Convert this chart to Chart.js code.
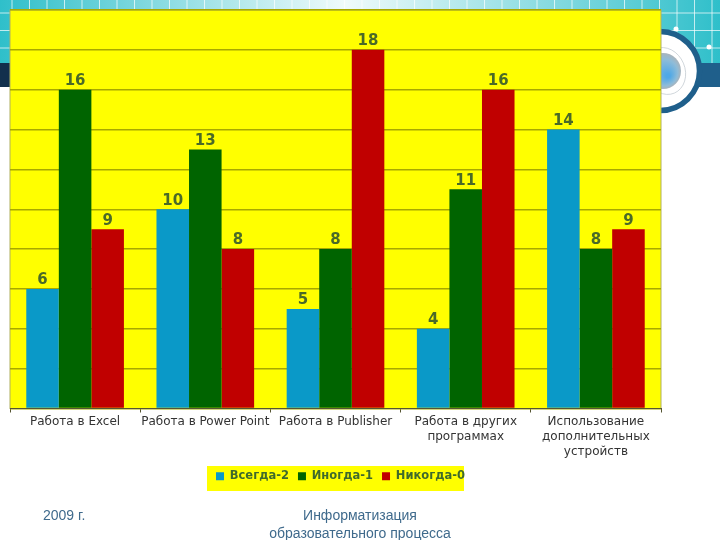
<!DOCTYPE html>
<html>
<head>
<meta charset="utf-8">
<title>Chart</title>
<script src="https://cdn.jsdelivr.net/npm/chart.js@4/dist/chart.umd.min.js"></script>
<style>
    html, body { margin: 0; padding: 0; background: #fff; }
    #wrap { position: relative; width: 720px; height: 540px; overflow: hidden; }
    canvas { display: block; }
    .foot { position: absolute; font-family: "Liberation Sans", Arial, sans-serif; font-size: 14px; line-height: 18px; color: #3f6a8c; }
</style>
</head>
<body>
<div id="wrap">
    <canvas id="chart" width="720" height="540"></canvas>
    <div class="foot" style="left:43px;top:506px;">2009 г.</div>
    <div class="foot" style="left:230px;top:506px;width:260px;text-align:center;">Информатизация<br>образовательного процесса</div>
</div>
<script>
const categories = [
    'Работа в Excel',
    'Работа в Power Point',
    'Работа в Publisher',
    ['Работа в других', 'программах'],
    ['Использование', 'дополнительных', 'устройств']
];
const always = [6, 10, 5, 4, 14];
const sometimes = [16, 13, 8, 11, 8];
const never = [9, 8, 18, 16, 9];
const seriesNames = ['Всегда-2', 'Иногда-1', 'Никогда-0'];
const seriesColors = ['#0a99c8', '#006400', '#c00000'];

// Slide template behind the chart
const slideBackground = {
    id: 'slideBackground',
    afterLayout(chart) {
        // legend sits a little right of the plot centre in the original
        chart.legend.left += 5;
        chart.legend.right += 5;
        chart.legend.top += 1;
        chart.legend.bottom += 1;
    },
    beforeDraw(chart) {
        const ctx = chart.ctx;
        ctx.save();
        const grad = ctx.createLinearGradient(0, 0, 720, 0);
        grad.addColorStop(0, '#2fbfca');
        grad.addColorStop(0.48, '#f0fbfb');
        grad.addColorStop(1, '#2fbfca');
        ctx.fillStyle = grad;
        ctx.fillRect(0, 0, 720, 63);
        ctx.strokeStyle = 'rgba(255,255,255,0.7)';
        ctx.lineWidth = 1;
        for (let x = 12; x < 720; x += 17.5) {
            ctx.beginPath();
            ctx.moveTo(x, 0);
            ctx.lineTo(x, 63);
            ctx.stroke();
        }
        for (let y = 13; y < 63; y += 17.5) {
            ctx.beginPath();
            ctx.moveTo(0, y);
            ctx.lineTo(720, y);
            ctx.stroke();
        }
        ctx.fillStyle = '#ffffff';
        [[676, 29], [709, 47]].forEach(p => {
            ctx.beginPath();
            ctx.arc(p[0], p[1], 2.5, 0, Math.PI * 2);
            ctx.fill();
        });
        ctx.fillStyle = '#12304d';
        ctx.fillRect(0, 63, 360, 24);
        ctx.fillStyle = '#1f5f8b';
        ctx.fillRect(360, 63, 360, 24);

        ctx.fillStyle = '#ffffff';
        ctx.strokeStyle = '#1f5f8b';
        ctx.lineWidth = 5.5;
        ctx.beginPath();
        ctx.arc(660, 71, 39.5, 0, Math.PI * 2);
        ctx.fill();
        ctx.stroke();
        const globe = ctx.createRadialGradient(668, 76, 2, 663, 71, 18);
        globe.addColorStop(0, '#4fa8e6');
        globe.addColorStop(0.7, '#8fbcd8');
        globe.addColorStop(1, '#a9b4bc');
        ctx.fillStyle = globe;
        ctx.beginPath();
        ctx.arc(663, 71, 18, 0, Math.PI * 2);
        ctx.fill();
        ctx.strokeStyle = '#c4ccd2';
        ctx.lineWidth = 0.8;
        ctx.beginPath();
        ctx.ellipse(665, 71, 20, 24, -0.4, 0, Math.PI * 2);
        ctx.stroke();

        // yellow plot panel and legend panel
        const area = chart.chartArea;
        ctx.fillStyle = '#ffff00';
        ctx.fillRect(area.left, area.top, area.width, area.height);
        ctx.fillRect(207, 466, 257, 25);
        ctx.strokeStyle = '#b0b060';
        ctx.lineWidth = 1;
        ctx.strokeRect(area.left, area.top, area.width, area.height);
        ctx.restore();
    }
};

// Value labels above the bars
const valueLabels = {
    id: 'valueLabels',
    afterDatasetsDraw(chart) {
        const ctx = chart.ctx;
        ctx.save();
        ctx.font = 'bold 15px "DejaVu Sans"';
        ctx.fillStyle = '#4a6a28';
        ctx.textAlign = 'center';
        ctx.textBaseline = 'bottom';
        chart.data.datasets.forEach((ds, i) => {
            chart.getDatasetMeta(i).data.forEach((bar, j) => {
                ctx.fillText(ds.data[j], bar.x, bar.y - 1);
            });
        });
        ctx.restore();
    }
};

new Chart(document.getElementById('chart'), {
    type: 'bar',
    data: {
        labels: categories,
        datasets: [
            { label: seriesNames[0], data: always, backgroundColor: seriesColors[0] },
            { label: seriesNames[1], data: sometimes, backgroundColor: seriesColors[1] },
            { label: seriesNames[2], data: never, backgroundColor: seriesColors[2] }
        ]
    },
    options: {
        responsive: false,
        animation: false,
        categoryPercentage: 0.75,
        barPercentage: 1,
        layout: { padding: { left: 10, right: 59, top: 10, bottom: 49 } },
        plugins: {
            tooltip: { enabled: false },
            legend: {
                position: 'bottom',
                labels: {
                    boxWidth: 8,
                    boxHeight: 8,
                    padding: 9,
                    color: '#3f6a2c',
                    font: { family: 'DejaVu Sans', size: 11.5, weight: 'bold' }
                }
            }
        },
        scales: {
            x: {
                border: { color: '#555533', width: 1 },
                grid: { display: true, drawOnChartArea: false, drawTicks: true, tickLength: 4, color: '#555533' },
                ticks: {
                    color: '#333333',
                    padding: 2,
                    maxRotation: 0,
                    autoSkip: false,
                    font: { family: 'DejaVu Sans', size: 12, lineHeight: 1.25 }
                },
                afterFit(scale) { scale.height = 52; }
            },
            y: {
                min: 0,
                max: 20,
                afterFit(scale) { scale.width = 0; },
                border: { display: false },
                grid: { color: '#a8a800', lineWidth: 1.5, drawTicks: false },
                ticks: { display: false, stepSize: 2 }
            }
        }
    },
    plugins: [slideBackground, valueLabels]
});
</script>
</body>
</html>
